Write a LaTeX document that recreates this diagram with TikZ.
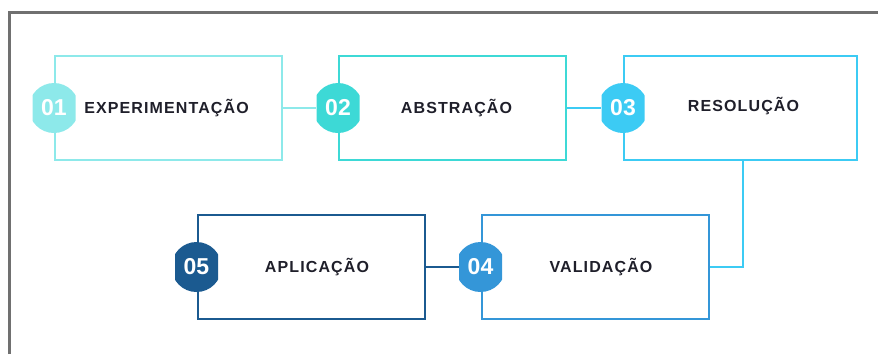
\documentclass[tikz,border=0pt]{standalone}
\usepackage{fontspec}
\setmainfont{Liberation Sans}
\newfontfamily\lblfont[LetterSpace=7]{Liberation Sans}
\usetikzlibrary{positioning}
\definecolor{cone}{HTML}{8DE9EA}
\definecolor{ctwo}{HTML}{3DD9D6}
\definecolor{cthree}{HTML}{3CCBF4}
\definecolor{cfour}{HTML}{3496D8}
\definecolor{cfive}{HTML}{1B5A90}
\definecolor{cframe}{HTML}{707070}
\definecolor{ctext}{HTML}{1F1F2A}
\tikzset{
  stepbox/.style={draw=#1, line width=2pt, minimum width=227pt, minimum height=104pt, inner sep=0pt},
  badge/.style={rectangle, minimum width=43pt, minimum height=50pt, inner sep=0pt, text=white,
    font=\fontsize{23}{24}\selectfont\bfseries,
    path picture={\fill[#1] (path picture bounding box.center) circle (25pt);}},
  lbl/.style={text=ctext, font=\lblfont\fontsize{16}{18}\selectfont\bfseries, inner sep=0pt},
  link/.style={draw=#1, line width=2pt}
}

\begin{document}
\begin{tikzpicture}[x=1pt,y=-1pt]
			\useasboundingbox (0,0) rectangle (878,354);
			\draw[cframe, line width=3pt] (9.5,354) -- (9.5,12) -- (878,12);
			% first row
			\node[stepbox=cone] (b1) at (168.5,108) {};
			\node[stepbox=ctwo] (b2) at (452.5,108) {};
			\node[stepbox=cthree, minimum width=233pt] (b3) at (740.5,108) {};
			% second row
			\node[stepbox=cfour] (b4) at (595,267) {};
			\node[stepbox=cfive] (b5) at (311,267) {};
			
			\node[badge=cone] (n1) at (b1.west) {01};
			\node[badge=ctwo] (n2) at (b2.west) {02};
			\node[badge=cthree] (n3) at (b3.west) {03};
			\node[badge=cfour] (n4) at (b4.west) {04};
			\node[badge=cfive] (n5) at (b5.west) {05};
			
			\node[lbl] (t1) at ([xshift=-2pt]b1.center) {EXPERIMENTAÇÃO};
			\node[lbl] (t2) at ([xshift=4pt]b2.center) {ABSTRAÇÃO};
			\node[lbl] (t3) at ([xshift=3pt,yshift=1.5pt]b3.center) {RESOLUÇÃO};
			\node[lbl] (t4) at ([xshift=6pt]b4.center) {VALIDAÇÃO};
			\node[lbl] (t5) at ([xshift=6pt]b5.center) {APLICAÇÃO};
			
			\draw[link=cone] (b1.east) -- (n2.west);
			\draw[link=cthree] (b2.east) -- (n3.west);
			\draw[link=cthree] ([xshift=2.5pt]b3.south) |- (b4.east);
			\draw[link=cfive] (b5.east) -- (n4.west);
\end{tikzpicture}
\end{document}
